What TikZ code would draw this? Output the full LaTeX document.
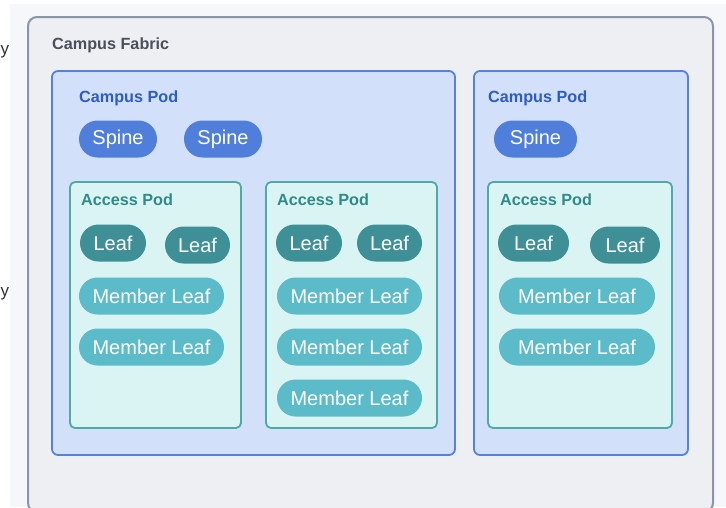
\documentclass[tikz,border=0pt]{standalone}
\usepackage{fontspec}
\setmainfont{Liberation Sans}
\definecolor{pagebg}{HTML}{F5F7FA}
\definecolor{fabricfill}{HTML}{EDEFF3}
\definecolor{fabricline}{HTML}{8C95A6}
\definecolor{fabrictext}{HTML}{4A4F5A}
\definecolor{podfill}{HTML}{D3E0FA}
\definecolor{podline}{HTML}{5283E3}
\definecolor{podtext}{HTML}{2C5CC4}
\definecolor{spinefill}{HTML}{507FDB}
\definecolor{accfill}{HTML}{D9F4F3}
\definecolor{accline}{HTML}{4DAAA5}
\definecolor{acctext}{HTML}{2F8B88}
\definecolor{leaffill}{HTML}{3F9096}
\definecolor{memberfill}{HTML}{5CBBC8}
\tikzset{
  fabricbox/.style={draw=fabricline, fill=fabricfill, line width=2pt, rounded corners=9pt},
  podbox/.style={draw=podline, fill=podfill, line width=1.8pt, rounded corners=6pt},
  accbox/.style={draw=accline, fill=accfill, line width=1.8pt, rounded corners=5pt},
  title/.style={anchor=base west, font=\bfseries\fontsize{16.2}{19}\selectfont, inner sep=0pt},
  pill/.style={rectangle, rounded corners=18.5pt, minimum height=37pt, inner sep=0pt,
               text=white, font=\fontsize{20}{23}\selectfont},
  spinenode/.style={pill, fill=spinefill},
  leafnode/.style={pill, fill=leaffill},
  membernode/.style={pill, fill=memberfill},
  edgeletter/.style={anchor=base west, inner sep=0pt, text=black!80, font=\fontsize{17}{20}\selectfont},
}
\begin{document}
\begin{tikzpicture}[x=1pt, y=-1pt]
\useasboundingbox (0,0) rectangle (726,507);
% page background
\fill[pagebg] (10,4) rectangle (726,507);
\fill[white] (0,0) rectangle (10,507);
% letters from the neighbouring column
\node[edgeletter] (ya) at (0.5,54) {y};
\node[edgeletter] (yb) at (0.5,296) {y};

% campus fabric
\draw[fabricbox] (28,17) rectangle (713,512);
\node[title, text=fabrictext] (fabric) at (52,49) {Campus Fabric};

% campus pod 1
\draw[podbox] (52,71) rectangle (455,455);
\node[title, text=podtext] (pod1) at (79,102) {Campus Pod};
\node[spinenode, minimum width=78pt] (s1) at (118,139) {Spine};
\node[spinenode, minimum width=78pt] (s2) at (223,139) {Spine};

% access pod 1
\draw[accbox] (70,182) rectangle (241,428);
\node[title, text=acctext] (acc1) at (81,205) {Access Pod};
\node[leafnode, minimum width=66pt] (l11) at (113,243) {Leaf};
\node[leafnode, minimum width=65pt] (l12) at (197.5,245) {Leaf};
\node[membernode, minimum width=145pt] (m11) at (151.5,296) {Member Leaf};
\node[membernode, minimum width=145pt] (m12) at (151.5,347) {Member Leaf};

% access pod 2
\draw[accbox] (266,182) rectangle (437,428);
\node[title, text=acctext] (acc2) at (277,205) {Access Pod};
\node[leafnode, minimum width=66pt] (l21) at (309,243) {Leaf};
\node[leafnode, minimum width=65pt] (l22) at (389.5,243) {Leaf};
\node[membernode, minimum width=145pt] (m21) at (349.5,296) {Member Leaf};
\node[membernode, minimum width=145pt] (m22) at (349.5,347) {Member Leaf};
\node[membernode, minimum width=145pt] (m23) at (349.5,398) {Member Leaf};

% campus pod 2
\draw[podbox] (474,71) rectangle (688,455);
\node[title, text=podtext] (pod2) at (488,102) {Campus Pod};
\node[spinenode, minimum width=83pt] (s3) at (535.5,139) {Spine};

% access pod 3
\draw[accbox] (488,182) rectangle (672,428);
\node[title, text=acctext] (acc3) at (500,205) {Access Pod};
\node[leafnode, minimum width=71pt] (l31) at (533.5,243) {Leaf};
\node[leafnode, minimum width=70pt] (l32) at (625,245) {Leaf};
\node[membernode, minimum width=156pt] (m31) at (577,296) {Member Leaf};
\node[membernode, minimum width=156pt] (m32) at (577,347) {Member Leaf};
\end{tikzpicture}
\end{document}
